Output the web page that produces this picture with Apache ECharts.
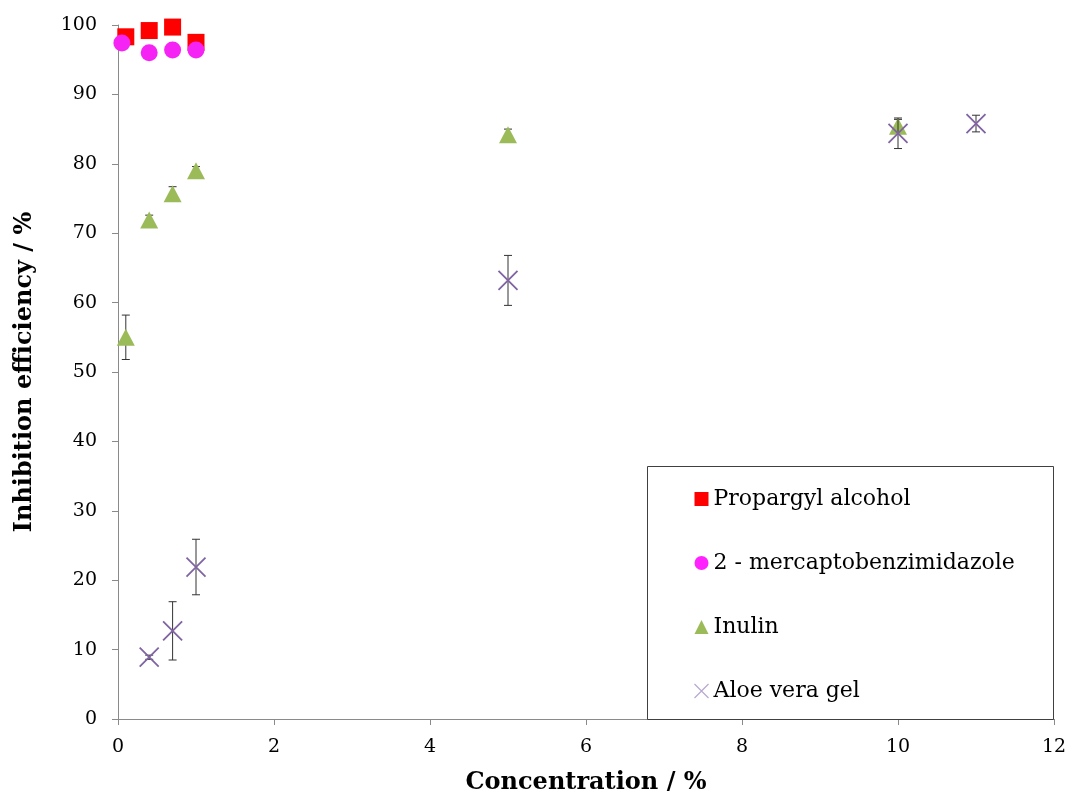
<!DOCTYPE html>
<html>
<head>
<meta charset="utf-8">
<script src="https://cdn.jsdelivr.net/npm/echarts@6/dist/echarts.min.js"></script>
<style>
  html, body { margin: 0; padding: 0; background: #fff; }
  #chart { width: 1069px; height: 798px; }
</style>
</head>
<body>
<div id="chart"></div>
<script>
// Inhibition efficiency of four inhibitors versus concentration
const xTicks = [0, 2, 4, 6, 8, 10, 12];
const yTicks = [0, 10, 20, 30, 40, 50, 60, 70, 80, 90, 100];

const concPropargyl = [0.1, 0.4, 0.7, 1.0];
const iePropargyl   = [98.3, 99.2, 99.7, 97.5];

const concMBI = [0.05, 0.4, 0.7, 1.0];
const ieMBI   = [97.4, 96.0, 96.4, 96.4];

const concInulin = [0.1, 0.4, 0.7, 1.0, 5, 10];
const ieInulin   = [55.0, 71.9, 75.7, 79.0, 84.2, 85.4];
const errInulin  = [3.2, 0.7, 1.0, 0.6, 0.8, 1.0];

const concAloe = [0.4, 0.7, 1.0, 5, 10, 11];
const ieAloe   = [8.9, 12.7, 21.9, 63.2, 84.4, 85.8];
const errAloe  = [0.3, 4.2, 4.0, 3.6, 2.2, 1.2];

const seriesNames = ['Propargyl alcohol', '2 - mercaptobenzimidazole', 'Inulin', 'Aloe vera gel'];

const FONT = '"DejaVu Serif", "Liberation Serif", serif';
const AXIS_COLOR = '#8a8a8a';
const CROSS = 'path://M0,0L10,10M10,0L0,10';

const pairs = (xs, ys) => xs.map((x, i) => [x, ys[i]]);
const triples = (xs, ys, es) => xs.map((x, i) => [x, ys[i], es[i]]);

// Vertical error bar with end caps, positioned through the axis scales
function errorBar(params, api) {
  const x = api.value(0), y = api.value(1), e = api.value(2);
  const top = api.coord([x, y + e]);
  const bot = api.coord([x, y - e]);
  const cap = 4;
  const style = { stroke: '#333', lineWidth: 1 };
  return {
    type: 'group',
    children: [
      { type: 'line', shape: { x1: top[0], y1: top[1], x2: bot[0], y2: bot[1] }, style },
      { type: 'line', shape: { x1: top[0] - cap, y1: top[1], x2: top[0] + cap, y2: top[1] }, style },
      { type: 'line', shape: { x1: bot[0] - cap, y1: bot[1], x2: bot[0] + cap, y2: bot[1] }, style }
    ]
  };
}

const chart = echarts.init(document.getElementById('chart'), null, { renderer: 'canvas' });

chart.setOption({
  backgroundColor: '#fff',
  animation: false,
  textStyle: { fontFamily: FONT },
  grid: { left: 118, right: 15, top: 25, bottom: 79, containLabel: false, outerBoundsMode: 'none' },
  xAxis: {
    type: 'value',
    min: xTicks[0],
    max: xTicks[xTicks.length - 1],
    interval: xTicks[1] - xTicks[0],
    name: 'Concentration / %',
    nameLocation: 'middle',
    nameGap: 52,
    nameTextStyle: { fontFamily: FONT, fontWeight: 'bold', fontSize: 24, color: '#000' },
    axisLine: { show: true, onZero: false, lineStyle: { color: AXIS_COLOR, width: 1 } },
    axisTick: { show: true, inside: false, length: 6, lineStyle: { color: AXIS_COLOR } },
    axisLabel: { fontFamily: FONT, fontSize: 19, color: '#000', margin: 19 },
    splitLine: { show: false }
  },
  yAxis: {
    type: 'value',
    min: yTicks[0],
    max: yTicks[yTicks.length - 1],
    interval: yTicks[1] - yTicks[0],
    name: 'Inhibition efficiency / %',
    nameLocation: 'middle',
    nameGap: 81,
    nameTextStyle: { fontFamily: FONT, fontWeight: 'bold', fontSize: 24, color: '#000' },
    axisLine: { show: true, lineStyle: { color: AXIS_COLOR, width: 1 } },
    axisTick: { show: true, inside: false, length: 6, lineStyle: { color: AXIS_COLOR } },
    axisLabel: { fontFamily: FONT, fontSize: 19, color: '#000', margin: 21 },
    splitLine: { show: false }
  },
  graphic: [{
    type: 'rect',
    left: 647, top: 466,
    shape: { width: 406, height: 253 },
    style: { fill: '#fff', stroke: '#404040', lineWidth: 1 },
    z: 50
  }],
  legend: {
    orient: 'vertical',
    left: 687, top: 483,
    itemWidth: 14, itemHeight: 14,
    itemGap: 42,
    z: 60,
    textStyle: { fontFamily: FONT, fontSize: 22, color: '#000', lineHeight: 22 },
    data: [
      { name: seriesNames[0], icon: 'rect', itemStyle: { color: '#ff0000' } },
      { name: seriesNames[1], icon: 'circle', itemStyle: { color: '#ff22ff' } },
      { name: seriesNames[2], icon: 'triangle', itemStyle: { color: '#9bbb59' } },
      { name: seriesNames[3], icon: CROSS,
        itemStyle: { color: 'none', borderColor: '#b8a8d0', borderWidth: 1.2 } }
    ]
  },
  series: [
    {
      name: seriesNames[0], type: 'scatter', z: 2,
      symbol: 'rect', symbolSize: 17,
      itemStyle: { color: '#ff0000', opacity: 1 },
      data: pairs(concPropargyl, iePropargyl)
    },
    {
      name: seriesNames[1], type: 'scatter', z: 3,
      symbol: 'circle', symbolSize: 17,
      itemStyle: { color: '#f524f5', opacity: 1 },
      data: pairs(concMBI, ieMBI)
    },
    {
      name: seriesNames[2], type: 'custom', z: 4,
      renderItem: errorBar,
      encode: { x: 0, y: 1 },
      data: triples(concInulin, ieInulin, errInulin),
      tooltip: { show: false }
    },
    {
      name: seriesNames[2], type: 'scatter', z: 5,
      symbol: 'triangle', symbolSize: [18, 17],
      itemStyle: { color: '#9bbb59', opacity: 1 },
      data: pairs(concInulin, ieInulin)
    },
    {
      name: seriesNames[3], type: 'custom', z: 6,
      renderItem: errorBar,
      encode: { x: 0, y: 1 },
      data: triples(concAloe, ieAloe, errAloe),
      tooltip: { show: false }
    },
    {
      name: seriesNames[3], type: 'scatter', z: 7,
      symbol: CROSS, symbolSize: 19,
      itemStyle: { color: 'none', borderColor: '#8064a2', borderWidth: 1.8, opacity: 1 },
      data: pairs(concAloe, ieAloe)
    }
  ]
});
</script>
</body>
</html>
